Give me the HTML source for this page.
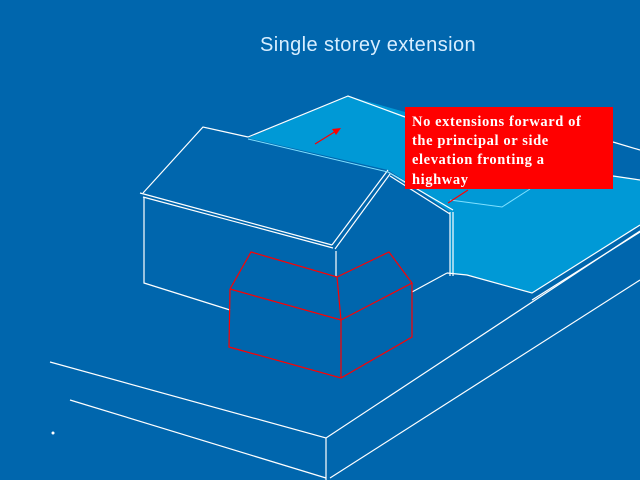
<!DOCTYPE html>
<html><head><meta charset="utf-8"><style>
html,body{margin:0;padding:0;background:#0066ad;}
svg{display:block}
</style></head><body>
<svg width="640" height="480" viewBox="0 0 640 480" xmlns="http://www.w3.org/2000/svg">
<rect width="640" height="480" fill="#0066ad"/>
<text x="368" y="51" text-anchor="middle" font-family="Liberation Sans, sans-serif" font-size="20" letter-spacing="0.4" fill="#d8eeff">Single storey extension</text>
<polygon points="248,138 348,96 405,112 613,176 640,180 640,225 532,293 467,275 450,273 450,212 407,182 388,170" fill="#0099d6"/>
<g fill="none" stroke="#ffffff" stroke-width="1.2">
<polyline points="248,137 348,96 405,117"/>
<line x1="613" y1="142" x2="640" y2="150"/>
<line x1="613" y1="176" x2="640" y2="180"/>
<polyline points="640,225 532,293 467,275 447,273"/>
<line x1="532" y1="300" x2="640" y2="232"/>
<polyline points="143,193 203,127 248,137"/>
<line x1="140" y1="193" x2="332" y2="245"/>
<line x1="143" y1="197" x2="333" y2="248"/>
<line x1="332" y1="245" x2="388" y2="170"/>
<line x1="335" y1="249" x2="390" y2="174"/>
<line x1="388" y1="172" x2="453" y2="210"/>
<line x1="390" y1="176" x2="450" y2="214"/>
<line x1="450" y1="212" x2="450" y2="276"/>
<line x1="453" y1="212" x2="453" y2="276"/>
<polyline points="144,197 144,283 230,310"/>
<line x1="336" y1="251" x2="336" y2="277"/>
<line x1="412" y1="292" x2="447" y2="273"/>
<polyline points="50,362 326,438 640,231"/>
<line x1="70" y1="400" x2="326" y2="478"/>
<line x1="326" y1="438" x2="326" y2="480"/>
<line x1="330" y1="478" x2="640" y2="280"/>
</g>
<polyline points="248,139 388,172 407,184" fill="none" stroke="#7fe0ff" stroke-width="1"/>
<polyline points="450,200 502,207 530,189" fill="none" stroke="#7fe0ff" stroke-width="1"/>
<g fill="none" stroke="#ff0000" stroke-width="1.2">
<polyline points="230,289 251,252 337,277 389,252 412,283 341,320 230,289"/>
<line x1="337" y1="277" x2="341" y2="320"/>
<polyline points="230,289 229,347 341,378 412,337 412,283"/>
<line x1="341" y1="320" x2="341" y2="378"/>
<line x1="315" y1="144" x2="336" y2="131"/>
<line x1="448" y1="203" x2="468" y2="190"/>
</g>
<polygon points="341,128 332,129 336,135" fill="#ff0000"/>
<circle cx="53" cy="433" r="1.5" fill="#fff"/>
<rect x="405" y="107" width="208" height="82" fill="#ff0000"/>
<g font-family="Liberation Serif, serif" font-weight="bold" font-size="14.5" fill="#ffffff" letter-spacing="0.6">
<text x="412" y="126">No extensions forward of</text>
<text x="412" y="145">the principal or side</text>
<text x="412" y="164">elevation fronting a</text>
<text x="412" y="184">highway</text>
</g>
</svg>
</body></html>
